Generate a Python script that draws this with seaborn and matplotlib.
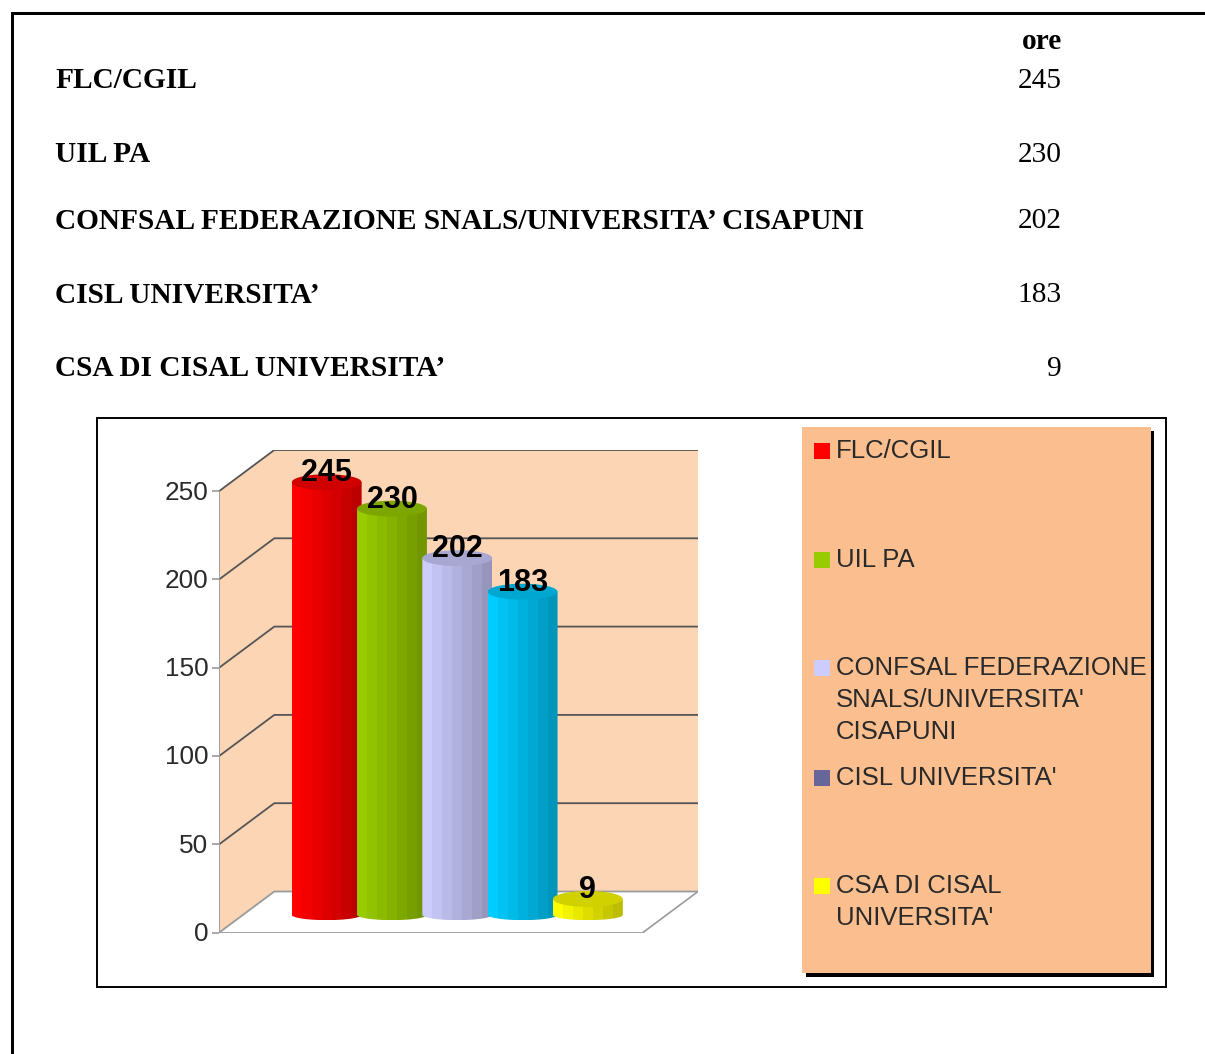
import numpy as np
import pandas as pd
import matplotlib
matplotlib.use("Agg")
import matplotlib.pyplot as plt
from matplotlib.patches import Rectangle, Polygon, PathPatch
from matplotlib.path import Path
from matplotlib.colors import to_rgb
from matplotlib.transforms import ScaledTranslation
import seaborn as sns

categories = ["FLC/CGIL", "UIL PA", "CONFSAL FEDERAZIONE SNALS/UNIVERSITA\u2019 CISAPUNI",
              "CISL UNIVERSITA\u2019", "CSA DI CISAL UNIVERSITA\u2019"]
values = [245, 230, 202, 183, 9]
bar_colors = ["#ff0000", "#99cc00", "#ccccff", "#00ccff", "#ffff00"]
legend_labels = ["FLC/CGIL", "UIL PA", "CONFSAL FEDERAZIONE\nSNALS/UNIVERSITA'\nCISAPUNI",
                 "CISL UNIVERSITA'", "CSA DI CISAL\nUNIVERSITA'"]
legend_colors = ["#ff0000", "#99cc00", "#ccccff", "#666699", "#ffff00"]
y_ticks = [0, 50, 100, 150, 200, 250]

W, H = 1205, 1054
sns.set_theme(style="white")
plt.rcParams["font.family"] = ["Liberation Sans", "DejaVu Sans"]
fig = plt.figure(figsize=(W / 100, H / 100), dpi=100, facecolor="white")

# page layer in pixel units
page = fig.add_axes([0, 0, 1, 1], zorder=0)
page.set_xlim(0, W)
page.set_ylim(H, 0)
page.axis("off")

# outer border
page.plot([11.5, 11.5, W], [H, 12.5, 12.5], color="black", lw=2.16, solid_joinstyle="miter")

# table
serif = ["Liberation Serif", "DejaVu Serif"]
page.text(1062, 41.5, "ore", family=serif, weight="bold", fontsize=21.2, ha="right", va="center", color="black")
table_y = [80.5, 154.5, 221.5, 295.5, 368.5]
for name, v, y in zip(categories, values, table_y):
    page.text(55, y, name, family=serif, weight="bold", fontsize=21.2, ha="left", va="center", color="black")
    page.text(1062, y, str(v), family=serif, fontsize=21.2, ha="right", va="center", color="black")

# chart frame
page.add_patch(Rectangle((97, 418), 1069, 569, fc="white", ec="black", lw=1.4))

# legend
page.add_patch(Rectangle((806, 431), 348, 546, fc="black", ec="none"))
page.add_patch(Rectangle((802, 427), 349, 546, fc="#fbbf8f", ec="none"))
legend_y = [451, 560, 668, 778, 886]
for lab, col, y in zip(legend_labels, legend_colors, legend_y):
    page.add_patch(Rectangle((814, y - 8), 16, 16, fc=col, ec="none"))
    for j, line in enumerate(lab.split("\n")):
        page.text(836, y + j * 32, line, fontsize=18.55, color="#2a2a2a", ha="left", va="center")

# plot layer: value axis + categories
px_left, px_right, px_bottom, px_top = 219.3, 698.0, 932.5, 450.0
ax = fig.add_axes([px_left / W, 1 - px_bottom / H, (px_right - px_left) / W, (px_bottom - px_top) / H], zorder=1)
ax.patch.set_visible(False)

df = pd.DataFrame({"sindacato": categories, "ore": values})
sns.barplot(data=df, x="sindacato", y="ore", hue="sindacato", hue_order=categories, order=categories,
            palette=bar_colors, legend=False, width=1.07, ax=ax, saturation=1, zorder=2)
bars = sorted(ax.patches, key=lambda p: p.get_x())

px_per_cat = 65.3
px_per_val = 1.766
first_center = 326.7
xlim = ((px_left - first_center) / px_per_cat, (px_right - first_center) / px_per_cat)
ylim = (0, (px_bottom - px_top) / px_per_val)
ax.set_xlabel("")
ax.set_ylabel("")
ax.set_xticks([])
ax.set_yticks(y_ticks)
ax.tick_params(axis="y", length=5, width=1.2, color="#999999", labelsize=18.8, labelcolor="#2a2a2a", left=True, pad=3)
sns.despine(ax=ax, left=True, bottom=True, top=True, right=True)

# 3D frame, derived from the value scale
dx = 55 / px_per_cat
dy = 41 / px_per_val
x0 = xlim[0]
x1 = xlim[1]
top_val = y_ticks[-1]
ax.add_patch(Polygon([(x0, 0), (x0 + dx, dy), (x0 + dx, top_val + dy), (x0, top_val)], fc="#fcd5b5", ec="none", zorder=0.5))
ax.add_patch(Rectangle((x0 + dx, dy), x1 - x0 - dx, top_val, fc="#fcd5b5", ec="none", zorder=0.5))
ax.add_patch(Polygon([(x0, 0), (x0 + dx, dy), (x1, dy), (x1 - dx, 0)], fc="white", ec="none", zorder=0.6))
for t in y_ticks:
    c = "#9a9a9a" if t == 0 else "#555555"
    ax.plot([x0, x0 + dx, x1], [t, t + dy, t + dy], color=c, lw=1.3, zorder=0.8, solid_joinstyle="miter")
ax.plot([x1 - dx, x1], [0, dy], color="#9a9a9a", lw=1.2, zorder=0.8)
ax.plot([x0, x1 - dx], [0, 0], color="#9a9a9a", lw=2, zorder=0.9)
ax.plot([x0, x0], [0, top_val], color="#9a9a9a", lw=1.3, zorder=0.9)

# cylinders: reuse the seaborn bars' geometry
depth = 10
low_half = 3.0
top_half = 4.5
theta = np.linspace(np.pi, 2 * np.pi, 30)
for i, (bar, col) in enumerate(zip(bars, bar_colors)):
    left, w, h = bar.get_x(), bar.get_width(), bar.get_height()
    bar.set_visible(False)
    cx = left + w / 2
    base = to_rgb(col)
    top_y = h + depth
    arc_x = cx + (w / 2) * np.cos(theta)
    arc_y = depth + low_half * np.sin(theta)
    verts = np.vstack([[left, top_y], np.column_stack([arc_x, arc_y]), [left + w, top_y], [left, top_y]])
    z = 2 + i
    shades = np.linspace(1.0, 0.74, 7)
    img = np.array([[tuple(s * b for b in base) for s in shades]])
    im = ax.imshow(img, extent=(left, left + w, depth - low_half, top_y), aspect="auto",
                   interpolation="nearest", zorder=z)
    clip = PathPatch(Path(verts), transform=ax.transData, fc="none", ec="none")
    ax.add_patch(clip)
    im.set_clip_path(clip)
    tt = np.linspace(0, 2 * np.pi, 40)
    ax.add_patch(Polygon(np.column_stack([cx + (w / 2) * np.cos(tt), top_y + top_half * np.sin(tt)]),
                         fc=tuple(0.82 * b for b in base), ec="none", zorder=z + 0.1))
    ax.text(cx, top_y + 5.0, str(values[i]), fontsize=22, weight="bold", color="black",
            ha="center", va="center", zorder=20)

ax.set_xlim(*xlim)
ax.set_ylim(*ylim)

shift = ScaledTranslation(0, 1 / 100, fig.dpi_scale_trans)
for lab in ax.get_yticklabels():
    lab.set_transform(lab.get_transform() + shift)

fig.savefig("out.png", dpi=100, facecolor="white")
